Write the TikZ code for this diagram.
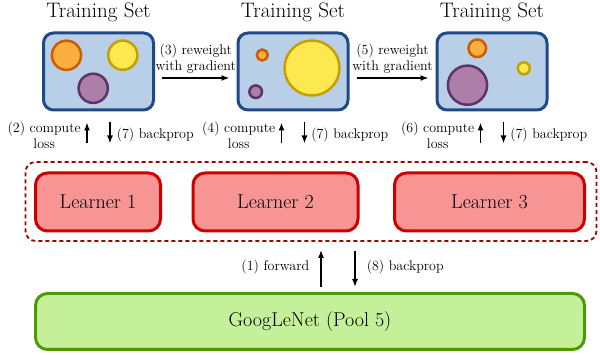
\documentclass[tikz,border=0pt]{standalone}
\usetikzlibrary{arrows.meta}
\definecolor{setfill}{HTML}{B9CFE7}
\definecolor{setdraw}{HTML}{204A87}
\definecolor{orfill}{HTML}{FCAF3E}
\definecolor{ordraw}{HTML}{CE5C00}
\definecolor{yefill}{HTML}{FCE94F}
\definecolor{yedraw}{HTML}{C4A000}
\definecolor{plfill}{HTML}{AD7FA8}
\definecolor{pldraw}{HTML}{5C3566}
\definecolor{lrnfill}{HTML}{F79494}
\definecolor{lrndraw}{HTML}{CC0000}
\definecolor{grpdraw}{HTML}{A40000}
\definecolor{netfill}{HTML}{C4F09A}
\definecolor{netdraw}{HTML}{4E9A06}
\begin{document}
\begin{tikzpicture}[x=1pt,y=-1pt,
  bigtext/.style={font=\fontsize{20}{24}\selectfont},
  titletext/.style={font=\fontsize{21}{25}\selectfont},
  lbl/.style={font=\fontsize{14}{16}\selectfont, inner sep=1pt, align=center},
  trainset/.style={draw=setdraw, fill=setfill, line width=3pt, rounded corners=10pt,
    minimum width=110pt, minimum height=77pt, inner sep=0pt},
  learner/.style={draw=lrndraw, fill=lrnfill, line width=3pt, rounded corners=12pt,
    minimum height=58pt, inner sep=0pt, bigtext},
  group/.style={draw=grpdraw, line width=1.8pt, dash pattern=on 4pt off 3pt,
    rounded corners=10pt, minimum width=571pt, minimum height=79pt, inner sep=0pt},
  net/.style={draw=netdraw, fill=netfill, line width=3pt, rounded corners=12pt,
    minimum width=549pt, minimum height=56pt, inner sep=0pt, bigtext},
  ball/.style={line width=2.5pt},
  orball/.style={ball, draw=ordraw, fill=orfill},
  yeball/.style={ball, draw=yedraw, fill=yefill},
  plball/.style={ball, draw=pldraw, fill=plfill},
  arr/.style={line width=1.5pt, -{Latex[length=8pt,width=6pt]}}
]
\useasboundingbox (0,0) rectangle (600,355);

% training sets
\node[trainset] (ts1) at (98.5,71.5) {};
\node[trainset] (ts2) at (293,71.5) {};
\node[trainset] (ts3) at (492,71.5) {};

\foreach \s in {ts1,ts2,ts3}
  \node[titletext, anchor=base, inner sep=0pt] (\s title) at (\s.north |- 0,17.5) {Training Set};

% samples, sized by their weight
\draw[orball] (66.5,55.3) circle[radius=14.6pt];
\draw[yeball] (122.8,55.2) circle[radius=14.6pt];
\draw[plball] (93.2,88.3) circle[radius=14.6pt];

\draw[orball] (262.3,55) circle[radius=5.5pt];
\draw[plball] (255.7,91.7) circle[radius=6.3pt];
\draw[yeball] (312,68) circle[radius=27.5pt];

\draw[orball] (477.3,48.3) circle[radius=8.8pt];
\draw[yeball] (523.8,68.3) circle[radius=6pt];
\draw[plball] (467.5,85.2) circle[radius=19.6pt];

% reweighting between training sets
\draw[arr, shorten <=7pt, shorten >=7pt] ([yshift=-6.5pt]ts1.east) --
  node[lbl, above=3pt] {(3) reweight\\with gradient} ([yshift=-6.5pt]ts2.west);
\draw[arr, shorten <=7pt, shorten >=7pt] ([yshift=-6.5pt]ts2.east) --
  node[lbl, above=3pt] {(5) reweight\\with gradient} ([yshift=-6.5pt]ts3.west);

% loss / backprop arrows below each training set
\foreach \s/\c in {ts1/2,ts2/4,ts3/6}{
  \draw[arr] ([xshift=-11.5pt,yshift=-32pt]\s.south) --
    node[lbl, left=4.5pt, yshift=-2pt] {(\c) compute\\loss} ([xshift=-11.5pt,yshift=-11pt]\s.south);
  \draw[arr] ([xshift=11.5pt,yshift=-11pt]\s.south) --
    node[lbl, right=5pt, yshift=-2pt] {(7) backprop} ([xshift=11.5pt,yshift=-32pt]\s.south);
}

% learners
\node[group] (grp) at (311,201.5) {};
\node[learner, minimum width=125pt] (l1) at (98,202) {Learner 1};
\node[learner, minimum width=165pt] (l2) at (275.5,202) {Learner 2};
\node[learner, minimum width=190pt] (l3) at (489.5,202) {Learner 3};

% feature extractor
\node[net] (gnet) at (310,321.5) {GoogLeNet (Pool 5)};

\draw[arr, shorten <=5pt, shorten >=8pt] ([xshift=11pt]gnet.north) --
  node[lbl, left=10pt] {(1) forward} ([xshift=11pt]gnet.north |- grp.south);
\draw[arr, shorten <=9pt, shorten >=5pt] ([xshift=45pt]gnet.north |- grp.south) --
  node[lbl, right=10pt] {(8) backprop} ([xshift=45pt]gnet.north);
\end{tikzpicture}
\end{document}
